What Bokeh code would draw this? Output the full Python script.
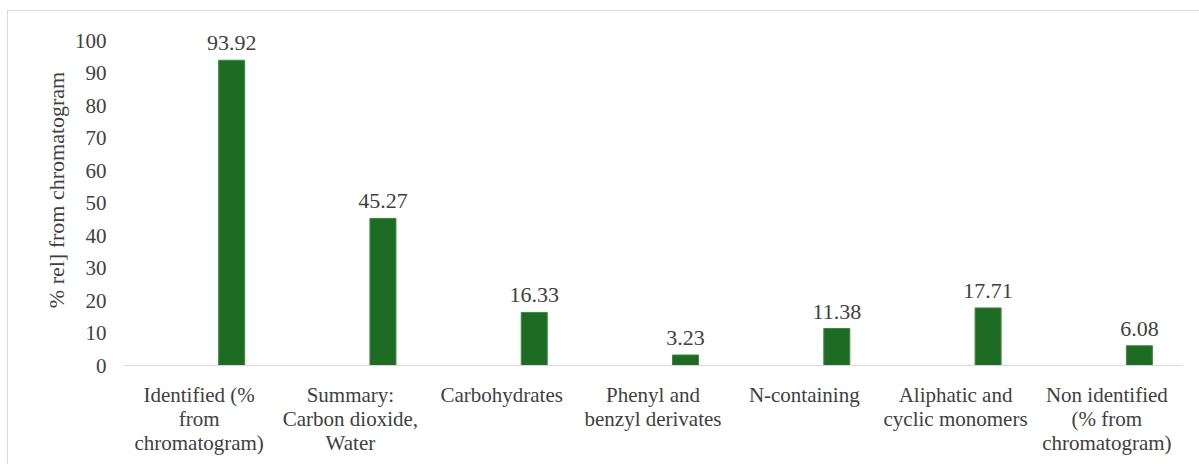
from bokeh.plotting import figure
from bokeh.models import ColumnDataSource, FactorRange, Range1d, FixedTicker
from bokeh.transform import dodge
from bokeh.core.properties import value
from bokeh.embed import file_html
from bokeh.resources import INLINE

categories = [
    "Identified (%\nfrom\nchromatogram)",
    "Summary:\nCarbon dioxide,\nWater",
    "Carbohydrates",
    "Phenyl and\nbenzyl derivates",
    "N-containing",
    "Aliphatic and\ncyclic monomers",
    "Non identified\n(% from\nchromatogram)",
]
values = [93.92, 45.27, 16.33, 3.23, 11.38, 17.71, 6.08]
labels = ["93.92", "45.27", "16.33", "3.23", "11.38", "17.71", "6.08"]
y_ticks = [0, 10, 20, 30, 40, 50, 60, 70, 80, 90, 100]

FONT = "Liberation Serif"
TXT = "#404040"

src = ColumnDataSource(dict(cat=categories, val=values, lab=labels))

p = figure(
    width=1192, height=454,
    x_range=FactorRange(*categories, range_padding=0),
    y_range=Range1d(0, 108),
    output_backend="svg", toolbar_location=None,
    min_border_left=115, min_border_right=18,
    min_border_top=3, min_border_bottom=100,
    margin=(10, 0, 0, 7),
    styles={"border-top": "1px solid #d9d9d9", "border-left": "1px solid #d9d9d9"},
)
p.outline_line_color = None
p.xgrid.grid_line_color = None
p.ygrid.grid_line_color = None
p.background_fill_color = "white"
p.border_fill_color = "white"

p.vbar(x=dodge("cat", 0.215, range=p.x_range), top="val", width=0.172, source=src,
       fill_color="#1e6b24", line_color="#3d8a45", line_width=1)

p.text(x=dodge("cat", 0.215, range=p.x_range), y="val", text="lab", source=src,
       text_align="center", text_baseline="alphabetic", y_offset=-17,
       text_font=value(FONT), text_font_size="22px", text_color=TXT)

# y axis
p.yaxis.ticker = FixedTicker(ticks=y_ticks)
p.yaxis.axis_line_color = None
p.yaxis.major_tick_line_color = None
p.yaxis.minor_tick_line_color = None
p.yaxis.major_label_text_font = FONT
p.yaxis.major_label_text_font_size = "21px"
p.yaxis.major_label_text_color = TXT
p.yaxis.major_label_standoff = 11
p.yaxis.axis_label = "% rel] from chromatogram"
p.yaxis.axis_label_text_font = FONT
p.yaxis.axis_label_text_font_style = "normal"
p.yaxis.axis_label_text_font_size = "22px"
p.yaxis.axis_label_text_color = TXT
p.yaxis.axis_label_standoff = 3

# x axis
p.xaxis.axis_line_color = "#d9d9d9"
p.xaxis.axis_line_width = 1
p.xaxis.major_tick_line_color = None
p.xaxis.minor_tick_line_color = None
p.xaxis.major_label_text_font = FONT
p.xaxis.major_label_text_font_size = "21px"
p.xaxis.major_label_text_color = TXT
p.xaxis.major_label_text_line_height = 1.0
p.xaxis.major_label_standoff = 11
p.xaxis.major_label_orientation = "horizontal"

open("out.html", "w").write(file_html(p, INLINE))
